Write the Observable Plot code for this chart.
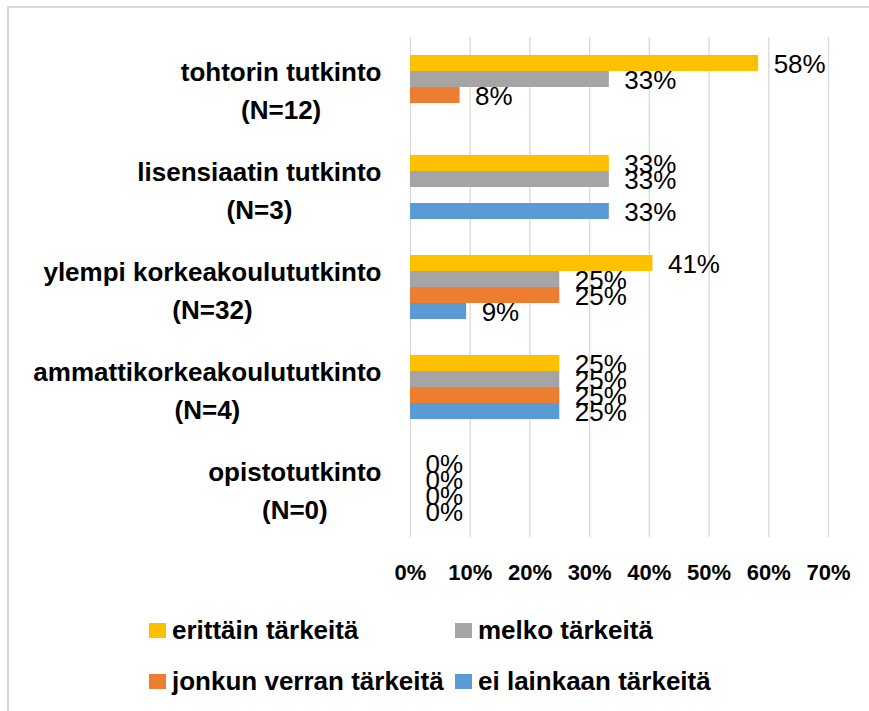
<!DOCTYPE html>
<html>
<head>
<meta charset="utf-8">
<script src="https://cdn.jsdelivr.net/npm/d3@7"></script>
<script src="https://cdn.jsdelivr.net/npm/@observablehq/plot@0.6"></script>
<style>
  html, body { margin: 0; padding: 0; background: #fff; }
  #wrap { position: relative; width: 869px; height: 711px; overflow: hidden; font-family: "Liberation Sans", Arial, sans-serif; }
  #frame { position: absolute; left: 7px; top: 6px; width: 900px; height: 760px; border-left: 2px solid #d9d9d9; border-top: 2px solid #d9d9d9; box-sizing: border-box; }
  #chart { position: absolute; left: 0; top: 0; }
  #legend { position: absolute; left: 149px; top: 615px; display: grid; grid-template-columns: 306px auto; grid-auto-rows: 51px; }
  .item { display: flex; align-items: center; height: 30px; font-size: 26px; font-weight: bold; color: #000; white-space: nowrap; }
  .sw { width: 17px; height: 15px; margin-right: 6px; flex: none; }
</style>
</head>
<body>
<div id="wrap">
  <div id="frame"></div>
  <div id="chart"></div>
  <div id="legend"></div>
</div>
<script>
const categories = ["tohtorin tutkinto", "lisensiaatin tutkinto", "ylempi korkeakoulututkinto", "ammattikorkeakoulututkinto", "opistotutkinto"];
const groupSizes = ["(N=12)", "(N=3)", "(N=32)", "(N=4)", "(N=0)"];
const series = ["erittäin tärkeitä", "melko tärkeitä", "jonkun verran tärkeitä", "ei lainkaan tärkeitä"];
const erittain = [58.3, 33.3, 40.6, 25, 0];
const melko = [33.3, 33.3, 25, 25, 0];
const jonkun = [8.3, null, 25, 25, 0];
const eiLainkaan = [null, 33.3, 9.4, 25, 0];
const xTicks = [0, 10, 20, 30, 40, 50, 60, 70];
const colors = ["#FFC000", "#A5A5A5", "#ED7D31", "#5B9BD5"];

const seriesValues = [erittain, melko, jonkun, eiLainkaan];
const rows = [];
categories.forEach((c, i) => {
  series.forEach((s, j) => {
    const v = seriesValues[j][i];
    if (v != null) rows.push({cat: c, series: s, value: v});
  });
});

const FONT = '"Liberation Sans", Arial, sans-serif';
const ctx = document.createElement("canvas").getContext("2d");
ctx.font = `bold 26px ${FONT}`;
const labelRight = -29;

const catMarks = categories.map((c, i) => {
  const w = ctx.measureText(c).width;
  return Plot.text([c], {
    fy: d => d, text: () => groupSizes[i], frameAnchor: "left",
    textAnchor: "middle", dx: labelRight - w / 2, dy: 23,
    fontSize: 26, fontWeight: "bold", fill: "#000"
  });
});

const chart = Plot.plot({
  width: 869,
  height: 600,
  marginLeft: 410,
  marginRight: 41,
  marginTop: 36,
  marginBottom: 63,
  style: {fontFamily: FONT, background: "transparent", color: "#000"},
  x: {domain: [0, 70], axis: null, label: null},
  fy: {domain: categories, padding: 0, axis: null},
  y: {domain: series, paddingInner: 0, paddingOuter: 1, axis: null},
  color: {domain: series, range: colors},
  marks: [
    Plot.ruleX(xTicks, {stroke: "#d9d9d9", strokeWidth: 1.3, strokeOpacity: 1}),
    Plot.barX(rows, {fy: "cat", y: "series", x: "value", fill: "series", inset: 0}),
    Plot.text(rows, {fy: "cat", y: "series", x: "value", text: d => Math.round(d.value) + "%", textAnchor: "start", dx: 15, dy: 1, fontSize: 26, fill: "#000"}),
    Plot.text(categories, {fy: d => d, text: d => d, frameAnchor: "left", textAnchor: "end", dx: labelRight, dy: -15, fontSize: 26, fontWeight: "bold", fill: "#000"}),
    ...catMarks,
    Plot.axisX(xTicks, {tickSize: 0, tickPadding: 27, label: null, tickFormat: d => d + "%", fontSize: 22, fontWeight: "bold", fill: "#000"})
  ]
});
document.getElementById("chart").appendChild(chart);

const legend = document.getElementById("legend");
series.forEach((s, j) => {
  const item = document.createElement("div");
  item.className = "item";
  const sw = document.createElement("span");
  sw.className = "sw";
  sw.style.background = colors[j];
  const t = document.createElement("span");
  t.textContent = s;
  item.appendChild(sw);
  item.appendChild(t);
  legend.appendChild(item);
});
</script>
</body>
</html>
